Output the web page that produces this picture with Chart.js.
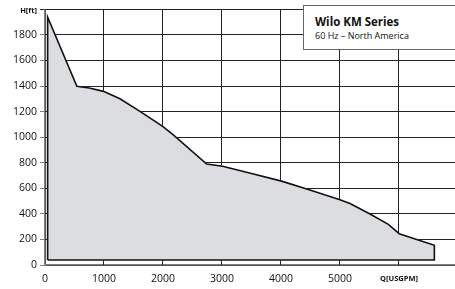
<!DOCTYPE html>
<html>
<head>
<meta charset="utf-8">
<script src="https://cdn.jsdelivr.net/npm/chart.js@4/dist/chart.umd.min.js"></script>
<style>
html,body{margin:0;padding:0;background:#fff;}
#wrap{width:455px;height:289px;position:relative;overflow:hidden;font-family:"Open Sans","Noto Sans",sans-serif;color:#111;}
#c{position:absolute;left:0;top:0;}
#hunit{position:absolute;left:0;top:6px;width:37px;text-align:right;font-size:7.5px;line-height:8px;font-weight:bold;white-space:nowrap;}
#qunit{position:absolute;left:359px;top:274px;width:80px;text-align:center;font-size:7.5px;line-height:8px;font-weight:bold;white-space:nowrap;}
#box{position:absolute;left:303px;top:5px;width:170px;height:45px;background:#fff;border:1.2px solid #666;box-sizing:border-box;}
#t1{position:absolute;left:315px;top:16px;font-size:11.5px;line-height:12px;font-weight:bold;white-space:nowrap;}
#t2{position:absolute;left:315px;top:31px;font-size:9px;line-height:10px;white-space:nowrap;}
</style>
</head>
<body>
<div id="wrap">
  <canvas id="c" width="455" height="289"></canvas>
  <div id="hunit"></div>
  <div id="qunit"></div>
  <div id="box"></div>
  <div id="t1"></div>
  <div id="t2"></div>
</div>
<script>
// Data
const flowQ = [45, 45, 540, 750, 990, 1270, 1610, 2000, 2175, 2740, 3010, 3500, 4010, 4490, 5000, 5170, 5510, 5820, 6005, 6600, 6600, 45];
const headH = [39, 1938, 1398, 1385, 1358, 1300, 1202, 1082, 1017, 790, 772, 716, 656, 587, 510, 481, 399, 318, 245, 154, 39, 39];
const xTickValues = [0, 1000, 2000, 3000, 4000, 5000, 6000];
const yTickValues = [0, 200, 400, 600, 800, 1000, 1200, 1400, 1600, 1800, 2000];
const xUnitLabel = 'Q[USGPM]';
const yUnitLabel = 'H[ft]';
const titleText = 'Wilo KM Series';
const subtitleText = '60 Hz \u2013 North America';

document.getElementById('hunit').textContent = yUnitLabel;
document.getElementById('qunit').textContent = xUnitLabel;
document.getElementById('t1').textContent = titleText;
document.getElementById('t2').textContent = subtitleText;

const FONT = '"Open Sans", "Noto Sans", sans-serif';
const points = flowQ.map((q, i) => ({x: q, y: headH[i]}));

function align(p) { return Math.round(p - 0.5) + 0.5; }

// grid lines from the library's scales, drawn outside the filled shape
const gridPlugin = {
  id: 'gridFromScales',
  afterDatasetsDraw(chart) {
    const c = chart.ctx, a = chart.chartArea;
    const xs = chart.scales.x, ys = chart.scales.y;
    const pts = chart.getDatasetMeta(0).data;
    c.save();
    c.beginPath();
    c.rect(a.left, a.top, a.right - a.left, a.bottom - a.top);
    pts.forEach((p, i) => { if (i === 0) c.moveTo(p.x, p.y); else c.lineTo(p.x, p.y); });
    c.closePath();
    c.clip('evenodd');
    c.lineWidth = 1;
    c.strokeStyle = '#222';
    c.beginPath();
    xs.ticks.forEach(t => {
      if (t.value === 0) return;
      const px = align(xs.getPixelForValue(t.value));
      c.moveTo(px, a.top); c.lineTo(px, a.bottom);
    });
    ys.ticks.forEach(t => {
      if (t.value === 0) return;
      const py = align(ys.getPixelForValue(t.value));
      c.moveTo(a.left, py); c.lineTo(a.right, py);
    });
    c.stroke();
    c.restore();
    c.save();
    c.lineWidth = 1;
    c.strokeStyle = '#808080';
    c.beginPath();
    ys.ticks.forEach(t => {
      if (t.value === 2000) return;
      const py = align(ys.getPixelForValue(t.value));
      c.moveTo(a.left - 5, py); c.lineTo(a.left, py);
    });
    c.stroke();
    c.restore();
  }
};

new Chart(document.getElementById('c'), {
  type: 'scatter',
  data: {
    datasets: [{
      data: points,
      showLine: true,
      fill: 'shape',
      backgroundColor: '#dcdde0',
      borderColor: '#111',
      borderWidth: 1.6,
      pointRadius: 0
    }]
  },
  options: {
    responsive: false,
    animation: false,
    layout: {padding: {top: 2, right: 0, left: 0, bottom: 0}},
    plugins: {legend: {display: false}},
    scales: {
      x: {
        min: 0,
        max: 6950,
        afterBuildTicks: (s) => { s.ticks = xTickValues.map(v => ({value: v})); },
        afterFit: (s) => { s.height = 24; },
        grid: {color: '#222', lineWidth: 1, drawTicks: false},
        border: {color: '#808080', width: 1.6},
        ticks: {
          padding: 8,
          color: '#111',
          font: {family: FONT, size: 10.5},
          callback: (v) => v === 6000 ? '' : String(v)
        }
      },
      y: {
        min: 0,
        max: 2000,
        afterBuildTicks: (s) => { s.ticks = yTickValues.map(v => ({value: v})); },
        afterFit: (s) => { s.width = 45; },
        grid: {color: '#222', lineWidth: 1, tickLength: 5},
        border: {color: '#808080', width: 1.6},
        ticks: {
          padding: 3,
          color: '#111',
          font: {family: FONT, size: 10.5},
          callback: (v) => v === 2000 ? '' : String(v)
        }
      }
    }
  },
  plugins: [gridPlugin]
});
</script>
</body>
</html>
